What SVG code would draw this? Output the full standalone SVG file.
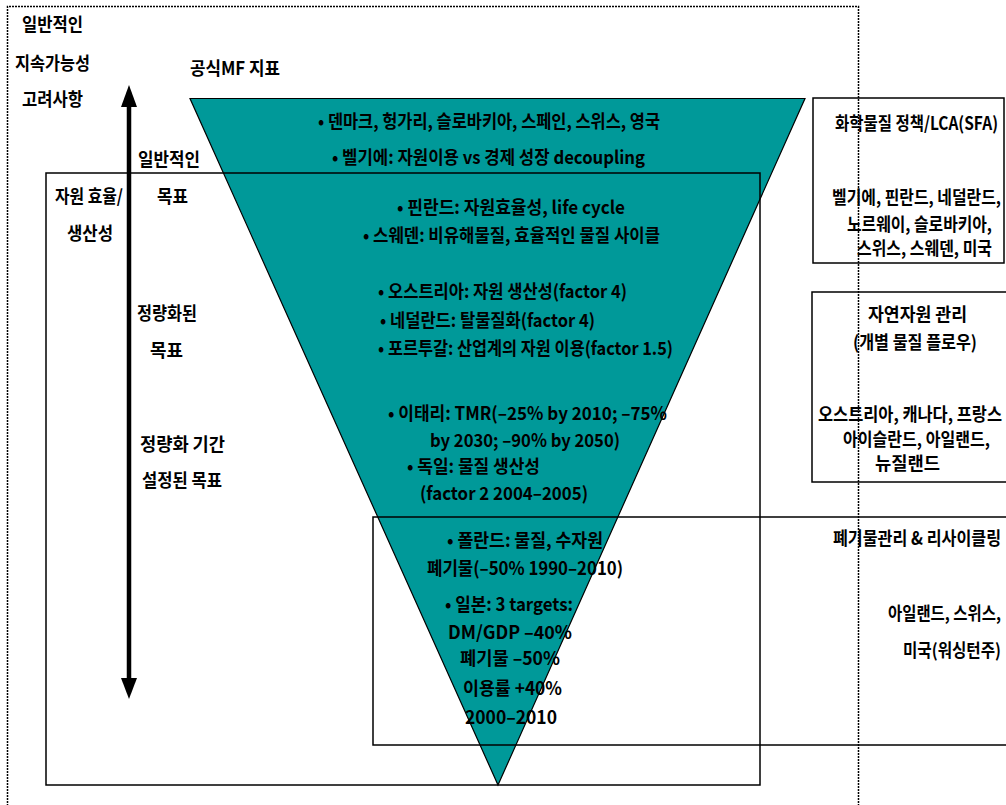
<svg xmlns="http://www.w3.org/2000/svg" width="1006" height="805" viewBox="0 0 1006 805">
<style>
.t{font-family:"Noto Sans CJK KR","Liberation Sans",sans-serif;font-weight:700;font-size:18px;fill:#000}
.box{fill:none;stroke:#000;stroke-width:1.5}
.dot{fill:none;stroke:#000;stroke-width:1.5;stroke-dasharray:2 1}
</style>
<rect width="1006" height="805" fill="#fff"/>
<g id="frame">
<path class="dot" d="M7.5,806 V6.5 H858.5 V806"/>
</g>
<g id="triangle">
<polygon points="190,98.5 805,98.5 498,785" fill="#009999" stroke="#000" stroke-width="1.2"/>
</g>
<g id="efficiency-box">
<rect class="box" x="46" y="173" width="714" height="612"/>
</g>
<g id="waste-box">
<rect class="box" x="373" y="517" width="650" height="228"/>
</g>
<g id="chem-box">
<rect class="box" x="813" y="98" width="191" height="165"/>
</g>
<g id="natural-box">
<rect class="box" x="812" y="292" width="210" height="190"/>
</g>
<g id="connectors">
<line x1="129" y1="104" x2="129" y2="681" stroke="#000" stroke-width="4.5"/>
<polygon points="129,85 121,107 137,107" fill="#000"/>
<polygon points="129,699 121,678 137,678" fill="#000"/>
</g>
<g id="left-labels">
<text class="t" x="22" y="31" textLength="61" lengthAdjust="spacingAndGlyphs">일반적인</text>
<text class="t" x="15" y="70" textLength="75" lengthAdjust="spacingAndGlyphs">지속가능성</text>
<text class="t" x="22" y="106" textLength="61" lengthAdjust="spacingAndGlyphs">고려사항</text>
<text class="t" x="190" y="75" textLength="90" lengthAdjust="spacingAndGlyphs">공식MF 지표</text>
<text class="t" x="138" y="166" textLength="62" lengthAdjust="spacingAndGlyphs">일반적인</text>
<text class="t" x="157" y="203" textLength="31" lengthAdjust="spacingAndGlyphs">목표</text>
<text class="t" x="55" y="203" textLength="68" lengthAdjust="spacingAndGlyphs">자원 효율/</text>
<text class="t" x="67" y="240" textLength="46" lengthAdjust="spacingAndGlyphs">생산성</text>
<text class="t" x="137" y="320" textLength="60" lengthAdjust="spacingAndGlyphs">정량화된</text>
<text class="t" x="150" y="357" textLength="33" lengthAdjust="spacingAndGlyphs">목표</text>
<text class="t" x="140" y="451" textLength="85" lengthAdjust="spacingAndGlyphs">정량화 기간</text>
<text class="t" x="142" y="487" textLength="80" lengthAdjust="spacingAndGlyphs">설정된 목표</text>
</g>
<g id="triangle-texts">
<text class="t" x="318" y="128" textLength="342" lengthAdjust="spacingAndGlyphs">• 덴마크, 헝가리, 슬로바키아, 스페인, 스위스, 영국</text>
<text class="t" x="332" y="164" textLength="313" lengthAdjust="spacingAndGlyphs">• 벨기에: 자원이용 vs 경제 성장 decoupling</text>
<text class="t" x="397" y="214" textLength="228" lengthAdjust="spacingAndGlyphs">• 핀란드: 자원효율성, life cycle</text>
<text class="t" x="363" y="242" textLength="297" lengthAdjust="spacingAndGlyphs">• 스웨덴: 비유해물질, 효율적인 물질 사이클</text>
<text class="t" x="378" y="298" textLength="249" lengthAdjust="spacingAndGlyphs">• 오스트리아: 자원 생산성(factor 4)</text>
<text class="t" x="380" y="327" textLength="215" lengthAdjust="spacingAndGlyphs">• 네덜란드: 탈물질화(factor 4)</text>
<text class="t" x="378" y="355" textLength="295" lengthAdjust="spacingAndGlyphs">• 포르투갈: 산업계의 자원 이용(factor 1.5)</text>
<text class="t" x="388" y="420" textLength="279" lengthAdjust="spacingAndGlyphs">• 이태리: TMR(–25% by 2010;  –75%</text>
<text class="t" x="430" y="447" textLength="190" lengthAdjust="spacingAndGlyphs">by 2030;  –90% by 2050)</text>
<text class="t" x="407" y="473" textLength="133" lengthAdjust="spacingAndGlyphs">• 독일: 물질 생산성</text>
<text class="t" x="420" y="500" textLength="168" lengthAdjust="spacingAndGlyphs">(factor 2 2004–2005)</text>
<text class="t" x="447" y="547" textLength="156" lengthAdjust="spacingAndGlyphs">• 폴란드: 물질, 수자원</text>
<text class="t" x="427" y="575" textLength="196" lengthAdjust="spacingAndGlyphs">폐기물(–50% 1990–2010)</text>
<text class="t" x="445" y="611" textLength="128" lengthAdjust="spacingAndGlyphs">• 일본: 3 targets:</text>
<text class="t" x="448" y="639" textLength="124" lengthAdjust="spacingAndGlyphs">DM/GDP –40%</text>
<text class="t" x="460" y="665" textLength="100" lengthAdjust="spacingAndGlyphs">폐기물 –50%</text>
<text class="t" x="463" y="695" textLength="99" lengthAdjust="spacingAndGlyphs">이용률 +40%</text>
<text class="t" x="465" y="724" textLength="92" lengthAdjust="spacingAndGlyphs">2000–2010</text>
</g>
<g id="right-texts">
<text class="t" x="835" y="130" textLength="163" lengthAdjust="spacingAndGlyphs">화학물질 정책/LCA(SFA)</text>
<text class="t" x="832" y="204" textLength="169" lengthAdjust="spacingAndGlyphs">벨기에, 핀란드, 네덜란드,</text>
<text class="t" x="847" y="231" textLength="145" lengthAdjust="spacingAndGlyphs">노르웨이, 슬로바키아,</text>
<text class="t" x="857" y="255" textLength="135" lengthAdjust="spacingAndGlyphs">스위스, 스웨덴, 미국</text>
<text class="t" x="868" y="321" textLength="99" lengthAdjust="spacingAndGlyphs">자연자원 관리</text>
<text class="t" x="853" y="349" textLength="124" lengthAdjust="spacingAndGlyphs">(개별 물질 플로우)</text>
<text class="t" x="818" y="421" textLength="184" lengthAdjust="spacingAndGlyphs">오스트리아, 캐나다, 프랑스</text>
<text class="t" x="843" y="446" textLength="147" lengthAdjust="spacingAndGlyphs">아이슬란드, 아일랜드,</text>
<text class="t" x="875" y="470" textLength="65" lengthAdjust="spacingAndGlyphs">뉴질랜드</text>
<text class="t" x="833" y="545" textLength="168" lengthAdjust="spacingAndGlyphs">폐기물관리 &amp; 리사이클링</text>
<text class="t" x="888" y="620" textLength="113" lengthAdjust="spacingAndGlyphs">아일랜드, 스위스,</text>
<text class="t" x="903" y="657" textLength="98" lengthAdjust="spacingAndGlyphs">미국(워싱턴주)</text>
</g>
</svg>
